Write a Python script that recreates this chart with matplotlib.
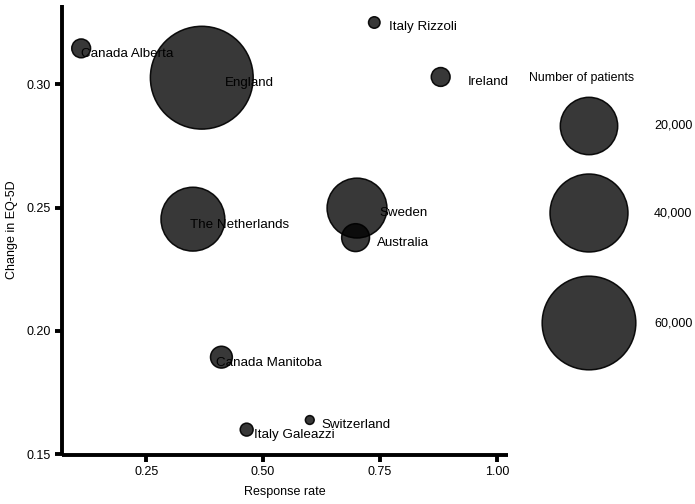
import numpy as np
import matplotlib
matplotlib.use("Agg")
import matplotlib.pyplot as plt

plt.rcParams['font.family'] = ['Liberation Sans', 'DejaVu Sans']

countries = ["Canada Alberta", "England", "Italy Rizzoli", "Ireland", "The Netherlands",
             "Sweden", "Australia", "Canada Manitoba", "Italy Galeazzi", "Switzerland"]
response_rate = [0.111, 0.369, 0.738, 0.880, 0.350, 0.701, 0.698, 0.411, 0.465, 0.600]
eq5d_change = [0.3146, 0.3027, 0.3251, 0.3030, 0.2453, 0.2498, 0.2378, 0.1893, 0.1599, 0.1638]
patients = [1330, 73500, 560, 1330, 25500, 22000, 3500, 1900, 640, 500]
legend_breaks = [20000, 40000, 60000]
legend_labels = ["20,000", "40,000", "60,000"]
x_ticks = [0.25, 0.50, 0.75, 1.00]
y_ticks = [0.15, 0.20, 0.25, 0.30]

# label offsets (pixels: right, down) from point centre to text left/centre
label_offsets = [(0, 6), (23, 5.5), (15, 5), (26.6, 5.3), (-3, 6),
                 (22, 5), (21, 5), (-5.5, 6), (7, 5.5), (12, 5)]

DPI = 100
nmin = min(patients)


def radius_px(n):
    return 5 + 0.174 * np.sqrt(np.maximum(np.asarray(n, float) - nmin, 0))


def size_pts2(n):
    d = 2 * (radius_px(n) - 0.6) * 72 / DPI
    return d ** 2


fig = plt.figure(figsize=(6.95, 5.04), dpi=DPI)
ax = fig.add_axes([62 / 695, (504 - 455) / 504, (508 - 62) / 695, (455 - 5) / 504])

face = (0, 0, 0, 0.78)
edge = (0, 0, 0, 0.92)
ax.scatter(response_rate, eq5d_change, s=size_pts2(patients), facecolor=face,
           edgecolor=edge, linewidth=1.1, zorder=2)

for name, x, y, (dx, dy) in zip(countries, response_rate, eq5d_change, label_offsets):
    ax.annotate(name, (x, y), xytext=(dx * 0.72, -dy * 0.72), textcoords='offset points',
                ha='left', va='center', fontsize=9.6, color='black', zorder=3)

ax.set_xlim(0.070, 1.024)
ax.set_ylim(0.1496, 0.3322)
ax.set_xticks(x_ticks)
ax.set_xticklabels([f"{v:.2f}" for v in x_ticks])
ax.set_yticks(y_ticks)
ax.set_yticklabels([f"{v:.2f}" for v in y_ticks])
for s in ['top', 'right']:
    ax.spines[s].set_visible(False)
for s in ['left', 'bottom']:
    ax.spines[s].set_linewidth(2.8)
    ax.spines[s].set_capstyle('butt')
ax.tick_params(axis='both', length=5, width=2.8, labelsize=9, colors='black', pad=3)
ax.set_xlabel("Response rate", fontsize=9, labelpad=6)
ax.set_ylabel("Change in EQ-5D", fontsize=9, labelpad=6)

# size legend
lax = fig.add_axes([0, 0, 1, 1])
lax.set_xlim(0, 695)
lax.set_ylim(504, 0)
lax.axis('off')
lax.patch.set_alpha(0)
legend_y = [126, 213, 323]
lax.scatter([589] * 3, legend_y, s=size_pts2(legend_breaks), facecolor=face,
            edgecolor=edge, linewidth=1.1)
for lbl, yy in zip(legend_labels, legend_y):
    lax.text(654, yy, lbl, ha='left', va='center', fontsize=9, color='black')
lax.text(529, 78, "Number of patients", ha='left', va='center', fontsize=8.9, color='black')

fig.savefig("out.png", dpi=DPI)
